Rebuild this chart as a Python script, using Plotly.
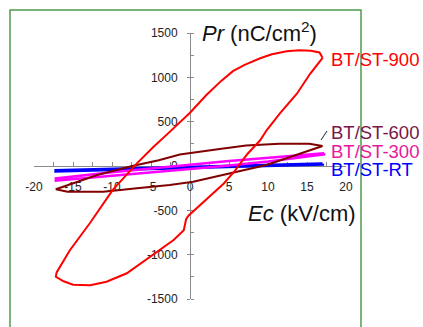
import plotly.graph_objects as go

# ---- data ----
e_900 = [17.0, 16.6, 15.5, 14.0, 12.4, 10.5, 9.0, 7.0, 5.5, 4.0, 2.1, 0.0, -2.6, -4.7, -6.8,
         -9.9, -12.8, -15.4, -17.1, -17.2, -16.2, -15.0, -12.8, -10.7, -8.1, -5.1, -2.1, -0.8,
         -0.5, -0.2, 1.3, 1.9, 4.3, 5.8, 7.3, 9.0, 9.8, 11.5, 13.7, 15.4, 16.7, 17.0]
p_900 = [1220, 1280, 1300, 1305, 1295, 1260, 1215, 1140, 1070, 960, 800, 600, 385, 215, 30,
         -270, -640, -950, -1200, -1250, -1300, -1340, -1345, -1305, -1210, -1025, -835, -725,
         -600, -560, -440, -385, -200, -50, 130, 290, 400, 590, 815, 1040, 1190, 1220]

e_600 = [17.0, 15.3, 11.5, 9.8, 7.2, 3.8, 1.3, -1.3, -4.0, -7.4, -11.9, -17.0, -17.2,
         -15.7, -11.1, -6.8, -2.6, 0.4, 3.0, 7.2, 9.8, 13.6, 17.0]
p_600 = [225, 250, 250, 246, 232, 192, 160, 130, 65, 0, -101, -251, -262,
         -290, -290, -251, -214, -177, -125, -45, 11, 124, 225]

e_300 = [17.2, 10.0, 5.0, 0.0, -5.0, -10.0, -17.2, -17.2, -10.0, -5.0, 0.0, 5.0, 10.0, 17.2, 17.2]
p_300 = [145, 95, 55, 15, -25, -70, -140, -165, -110, -75, -35, 5, 50, 130, 145]

e_rt = [17.0, 0.0, -17.2, -17.2, 0.0, 17.0, 17.0]
p_rt = [25, -12, -50, -58, -22, 18, 25]

x_ticks = [-20, -15, -10, -5, 0, 5, 10, 15, 20]
y_ticks = [-1500, -1000, -500, 0, 500, 1000, 1500]

series = [
    ("BT/ST-RT", e_rt, p_rt, "#0000ff", 3),
    ("BT/ST-300", e_300, p_300, "#ff00ff", 2.5),
    ("BT/ST-600", e_600, p_600, "#800000", 2),
    ("BT/ST-900", e_900, p_900, "#ff0000", 2),
]

fig = go.Figure()
for name, xs, ys, col, w in series:
    fig.add_trace(go.Scatter(x=xs, y=ys, mode="lines", name=name,
                             line=dict(color=col, width=w), showlegend=False,
                             hoverinfo="skip"))

W, H = 423, 327
L, R, T, B = 34, 77, 33, 28
pw, ph = W - L - R, H - T - B

def px(x):
    return (x - L) / pw

def py(y):
    return (H - B - y) / ph

axis_font = dict(family="Arial, Liberation Sans, sans-serif", size=12, color="#222222")

fig.update_layout(
    width=W, height=H, autosize=False,
    margin=dict(l=L, r=R, t=T, b=B, pad=0),
    paper_bgcolor="white", plot_bgcolor="white",
    xaxis=dict(range=[-20, 20], anchor="free", position=0.5, showgrid=False, zeroline=False,
               showline=True, linecolor="#8a8a8a", linewidth=1,
               tickvals=x_ticks, ticktext=[str(v) for v in x_ticks],
               ticks="inside", ticklen=4, tickcolor="#8a8a8a",
               minor=dict(dtick=2.5, tick0=0, ticks="inside", ticklen=4, tickcolor="#8a8a8a"),
               tickfont=axis_font, ticklabelstandoff=10, layer="below traces"),
    yaxis=dict(range=[-1500, 1500], anchor="free", position=0.5, showgrid=False, zeroline=False,
               showline=True, linecolor="#8a8a8a", linewidth=1,
               tickvals=y_ticks, ticktext=[str(v) for v in y_ticks],
               ticks="outside", ticklen=3, tickcolor="#8a8a8a",
               minor=dict(dtick=250, tick0=0, ticks="inside", ticklen=3, tickcolor="#8a8a8a"),
               tickfont=axis_font, ticklabelstandoff=7, layer="below traces"),
)

title_font = dict(family="Arial, Liberation Sans, sans-serif", size=22, color="#111111")
fig.add_annotation(text="<i>Pr</i> (nC/cm<sup>2</sup>)", xref="paper", yref="paper",
                   x=px(200), y=py(32), xanchor="left", yanchor="middle",
                   showarrow=False, font=title_font)
fig.add_annotation(text="<i>Ec</i> (kV/cm)", xref="paper", yref="paper",
                   x=px(246), y=py(213), xanchor="left", yanchor="middle",
                   showarrow=False, font=title_font)

labels = [
    ("BT/ST-900", "#ff0000", 60),
    ("BT/ST-600", "#7a1548", 132),
    ("BT/ST-300", "#e8179b", 151),
    ("BT/ST-RT", "#0000ff", 169),
]
for txt, col, yc in labels:
    fig.add_annotation(text=txt, xref="paper", yref="paper", x=px(329), y=py(yc),
                       xanchor="left", yanchor="middle", showarrow=False,
                       font=dict(family="Arial, Liberation Sans, sans-serif", size=18.5, color=col))

# leader line for BT/ST-600
fig.add_shape(type="line", xref="paper", yref="paper",
              x0=px(321), y0=py(140), x1=px(327), y1=py(131),
              line=dict(color="#222222", width=1))

# green frame
x0, x1, y0, y1 = px(10), px(361), py(10), py(335)
fig.add_shape(type="path", xref="paper", yref="paper",
              path=f"M {x0},{y1} L {x0},{y0} L {x1},{y0} L {x1},{y1}",
              line=dict(color="#4e9a4e", width=1.5))

fig.write_html("out.html", config={"displayModeBar": False},
               post_script="document.body.style.margin='0';document.body.style.overflow='hidden';")
